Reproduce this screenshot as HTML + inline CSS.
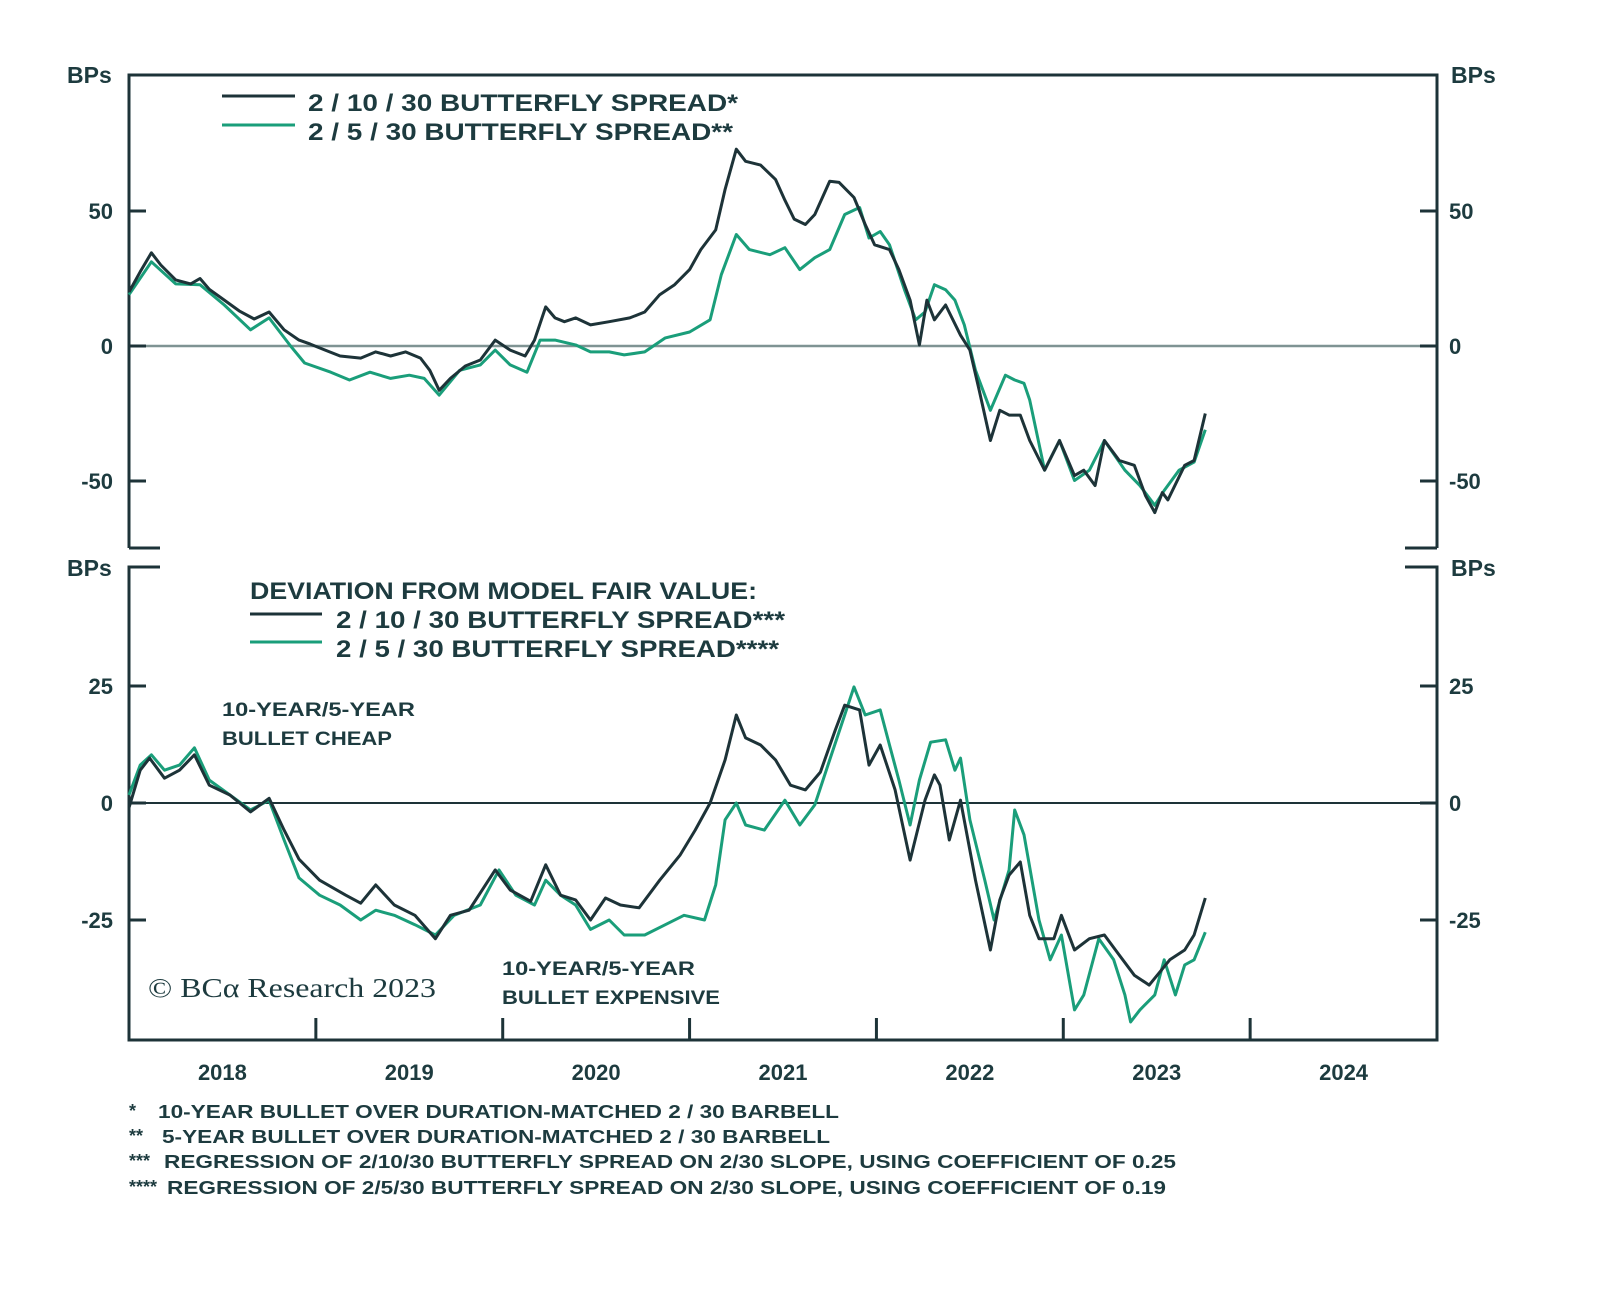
<!DOCTYPE html>
<html><head><meta charset="utf-8"><style>
html,body{margin:0;padding:0;background:#fff;}
svg{display:block;font-family:"Liberation Sans",sans-serif;}
</style></head><body>
<svg id="chart" width="1600" height="1289" viewBox="0 0 1600 1289">
<g id="frame"></g>
<g id="marks"></g>
<g id="texts" fill="#1d3b3f" font-weight="bold">
  <text x="67" y="83" font-size="23">BPs</text>
  <text x="1451" y="83" font-size="23">BPs</text>
  <text x="67" y="576" font-size="23">BPs</text>
  <text x="1451" y="576" font-size="23">BPs</text>
  <g>
    <line x1="222" y1="96" x2="295" y2="96" stroke="#1d3338" stroke-width="3"/>
    <line x1="222" y1="125" x2="295" y2="125" stroke="#1a9e7a" stroke-width="3"/>
    <text x="308" y="111" font-size="24" textLength="430" lengthAdjust="spacingAndGlyphs">2 / 10 / 30 BUTTERFLY SPREAD*</text>
    <text x="308" y="140" font-size="24" textLength="425" lengthAdjust="spacingAndGlyphs">2 / 5 / 30 BUTTERFLY SPREAD**</text>
  </g>
  <g>
    <text x="250" y="599" font-size="24" textLength="507" lengthAdjust="spacingAndGlyphs">DEVIATION FROM MODEL FAIR VALUE:</text>
    <line x1="250" y1="614" x2="322" y2="614" stroke="#1d3338" stroke-width="3"/>
    <line x1="250" y1="642" x2="322" y2="642" stroke="#1a9e7a" stroke-width="3"/>
    <text x="336" y="628" font-size="24" textLength="449" lengthAdjust="spacingAndGlyphs">2 / 10 / 30 BUTTERFLY SPREAD***</text>
    <text x="336" y="657" font-size="24" textLength="443" lengthAdjust="spacingAndGlyphs">2 / 5 / 30 BUTTERFLY SPREAD****</text>
  </g>
  <text x="222" y="716" font-size="19" textLength="193" lengthAdjust="spacingAndGlyphs">10-YEAR/5-YEAR</text>
  <text x="222" y="745" font-size="19" textLength="170" lengthAdjust="spacingAndGlyphs">BULLET CHEAP</text>
  <text x="502" y="975" font-size="19" textLength="193" lengthAdjust="spacingAndGlyphs">10-YEAR/5-YEAR</text>
  <text x="502" y="1004" font-size="19" textLength="218" lengthAdjust="spacingAndGlyphs">BULLET EXPENSIVE</text>
  <text x="148" y="997" font-size="27" font-weight="normal" font-family="Liberation Serif, serif" textLength="288" lengthAdjust="spacingAndGlyphs">© BCα Research 2023</text>
  <g font-size="18">
    <text x="129" y="1117">*</text>
    <text x="158" y="1118" textLength="681" lengthAdjust="spacingAndGlyphs">10-YEAR BULLET OVER DURATION-MATCHED 2 / 30 BARBELL</text>
    <text x="129" y="1142">**</text>
    <text x="162" y="1143" textLength="668" lengthAdjust="spacingAndGlyphs">5-YEAR BULLET OVER DURATION-MATCHED 2 / 30 BARBELL</text>
    <text x="129" y="1167">***</text>
    <text x="164" y="1168" textLength="1012" lengthAdjust="spacingAndGlyphs">REGRESSION OF 2/10/30 BUTTERFLY SPREAD ON 2/30 SLOPE, USING COEFFICIENT OF 0.25</text>
    <text x="129" y="1193">****</text>
    <text x="167" y="1194" textLength="999" lengthAdjust="spacingAndGlyphs">REGRESSION OF 2/5/30 BUTTERFLY SPREAD ON 2/30 SLOPE, USING COEFFICIENT OF 0.19</text>
  </g>
</g>
</svg>
<script>
// ---------- data ----------
const yearLabels = ["2018","2019","2020","2021","2022","2023","2024"];
const topTicks = [50, 0, -50];
const topTickLabels = ["50","0","-50"];
const bottomTicks = [25, 0, -25];
const bottomTickLabels = ["25","0","-25"];

const topBlackDates = [2018.00,2018.06,2018.12,2018.17,2018.25,2018.33,2018.38,2018.43,2018.51,2018.59,2018.67,2018.75,2018.83,2018.91,2018.97,2019.05,2019.13,2019.24,2019.32,2019.40,2019.48,2019.56,2019.61,2019.66,2019.72,2019.80,2019.88,2019.96,2020.04,2020.12,2020.17,2020.23,2020.28,2020.33,2020.39,2020.47,2020.57,2020.68,2020.76,2020.84,2020.92,2021.00,2021.06,2021.14,2021.19,2021.25,2021.30,2021.38,2021.46,2021.51,2021.56,2021.62,2021.67,2021.75,2021.80,2021.88,2021.94,2021.99,2022.07,2022.12,2022.18,2022.23,2022.27,2022.31,2022.37,2022.45,2022.50,2022.55,2022.61,2022.66,2022.71,2022.77,2022.82,2022.90,2022.98,2023.06,2023.11,2023.17,2023.22,2023.30,2023.38,2023.44,2023.49,2023.53,2023.56,2023.65,2023.70,2023.76];
const topBlackValues = [20,27.5,34.5,30,24.5,23,25,21,17,13,10,12.6,6,2.2,0.7,-1.5,-3.7,-4.5,-2.2,-3.7,-2.2,-4.5,-9,-16.4,-12,-7.4,-5.2,2.2,-1.5,-3.7,2.2,14.5,10.4,9,10.4,7.8,9,10.4,12.6,19,22.7,28.3,35.7,43,58,72.9,68.4,67,61.7,54,47,45,48.7,61,60.6,55,45,37.5,35.7,28.3,17,0.4,17,9.7,15.2,4,-1.5,-16.4,-35,-23.8,-25.6,-25.6,-35,-46,-35,-48,-46,-51.7,-35,-42.4,-44.2,-55.4,-61.7,-54.3,-57,-44.2,-42.4,-25];

const topGreenDates = [2018.00,2018.12,2018.25,2018.38,2018.51,2018.65,2018.75,2018.86,2018.94,2019.08,2019.18,2019.29,2019.40,2019.50,2019.58,2019.66,2019.77,2019.88,2019.96,2020.04,2020.13,2020.20,2020.28,2020.39,2020.47,2020.57,2020.65,2020.76,2020.87,2021.00,2021.11,2021.17,2021.25,2021.32,2021.43,2021.51,2021.59,2021.67,2021.75,2021.83,2021.91,2021.96,2022.02,2022.07,2022.15,2022.21,2022.26,2022.31,2022.37,2022.42,2022.47,2022.53,2022.61,2022.69,2022.74,2022.79,2022.82,2022.90,2022.98,2023.06,2023.14,2023.22,2023.33,2023.41,2023.49,2023.54,2023.62,2023.70,2023.76];
const topGreenValues = [19,31.2,23,22.7,15.2,6,10.4,0.4,-6.3,-9.7,-12.6,-9.7,-12,-10.8,-12,-18.2,-9,-7,-1.5,-7,-9.7,2.2,2.2,0.4,-2.2,-2.2,-3.3,-2.2,3,5.2,9.7,26.4,41.3,35.7,33.8,36.4,28.3,32.7,35.7,48.7,51.3,40,42.4,37.5,20.8,9.7,12.6,22.7,20.8,17,7.8,-9,-23.8,-10.8,-12.6,-13.8,-20,-46,-35,-49.8,-46,-35,-46,-51.7,-59,-53.5,-46,-43,-31];

const botBlackDates = [2018.00,2018.06,2018.11,2018.19,2018.27,2018.35,2018.43,2018.54,2018.65,2018.75,2018.83,2018.91,2019.02,2019.16,2019.24,2019.32,2019.42,2019.53,2019.64,2019.72,2019.82,2019.96,2020.04,2020.15,2020.23,2020.31,2020.39,2020.47,2020.55,2020.63,2020.73,2020.84,2020.95,2021.03,2021.11,2021.19,2021.25,2021.30,2021.38,2021.46,2021.54,2021.62,2021.70,2021.78,2021.83,2021.91,2021.96,2022.02,2022.10,2022.18,2022.26,2022.31,2022.34,2022.39,2022.45,2022.53,2022.61,2022.66,2022.71,2022.77,2022.82,2022.87,2022.95,2022.99,2023.06,2023.14,2023.22,2023.30,2023.38,2023.46,2023.57,2023.65,2023.70,2023.76];
const botBlackValues = [-1,7,9.6,5.3,7,10.3,3.8,1.7,-1.9,1,-5.8,-12,-16.5,-19.7,-21.4,-17.5,-21.8,-24,-29,-24,-22.9,-14.3,-18.6,-21,-13.2,-19.7,-20.7,-25,-20.3,-21.8,-22.4,-16.5,-11.1,-5.8,0,9.2,18.8,13.9,12.4,9.2,3.8,2.8,6.6,15.6,20.9,19.9,8.1,12.4,2.8,-12.2,0.6,6,3.8,-7.9,0.6,-16.5,-31.4,-20.7,-15.4,-12.6,-24,-29,-29,-24,-31.4,-29,-28.2,-32.5,-36.8,-38.9,-33.5,-31.4,-28.2,-20.3];

const botGreenDates = [2018.00,2018.06,2018.12,2018.19,2018.27,2018.35,2018.43,2018.54,2018.65,2018.75,2018.83,2018.91,2019.02,2019.13,2019.24,2019.32,2019.42,2019.53,2019.64,2019.74,2019.88,2019.98,2020.07,2020.17,2020.23,2020.31,2020.39,2020.47,2020.57,2020.65,2020.76,2020.87,2020.97,2021.08,2021.14,2021.19,2021.25,2021.30,2021.40,2021.51,2021.59,2021.67,2021.75,2021.83,2021.88,2021.94,2022.02,2022.07,2022.12,2022.18,2022.23,2022.29,2022.37,2022.42,2022.45,2022.50,2022.58,2022.63,2022.71,2022.74,2022.79,2022.87,2022.93,2022.99,2023.06,2023.11,2023.19,2023.27,2023.33,2023.36,2023.41,2023.49,2023.54,2023.60,2023.65,2023.70,2023.76];
const botGreenValues = [1.7,8.1,10.3,7,8.1,11.8,4.9,1.7,-1.5,0.6,-7.9,-16,-19.7,-21.8,-25,-22.9,-24,-26,-28.2,-24,-21.8,-14.3,-19.7,-21.8,-16.5,-19.7,-21.8,-27,-25,-28.2,-28.2,-26,-24,-25,-17.5,-3.6,0,-4.7,-5.8,0.6,-4.7,-0.4,9.2,18.8,24.8,18.8,19.9,12.4,4.9,-4.7,4.9,13,13.5,7,9.6,-3.6,-16.5,-25,-14.3,-1.5,-6.8,-25,-33.5,-28.2,-44.2,-41,-29,-33.5,-41,-46.8,-44.2,-41,-33.5,-41,-34.6,-33.5,-27.6];

// ---------- scales ----------
const X0 = 129, X1 = 1437, T0 = 2018, T1 = 2025;
function xScale(t){ return X0 + (t - T0) / (T1 - T0) * (X1 - X0); }
function yTop(v){ return 346 - v * (135 / 50); }
function yBot(v){ return 803 - v * (117 / 25); }

const NS = "http://www.w3.org/2000/svg";
const frame = document.getElementById('frame');
const marks = document.getElementById('marks');
const texts = document.getElementById('texts');
function mk(tag, attrs, parent){
  const e = document.createElementNS(NS, tag);
  for (const k in attrs) e.setAttribute(k, attrs[k]);
  parent.appendChild(e);
  return e;
}
const AX = "#1d3338";

// top panel frame
let e;
e = mk('path', {d:`M129 548 V75 H1437 V548`, fill:'none', stroke:AX, 'stroke-width':3}, frame);


e = mk('path', {d:`M129 548 H160 M1405 548 H1437`, fill:'none', stroke:AX, 'stroke-width':3}, frame);


// bottom panel frame
e = mk('path', {d:`M160 567 H129 V1040 H1437 V567 H1405`, fill:'none', stroke:AX, 'stroke-width':3}, frame);



// zero lines
e = mk('line', {x1:129, x2:1437, y1:yTop(0), y2:yTop(0), stroke:'#7f9393', 'stroke-width':2.5}, frame);


e = mk('line', {x1:129, x2:1437, y1:yBot(0), y2:yBot(0), stroke:AX, 'stroke-width':2}, frame);



// y ticks
topTicks.forEach((v,i)=>{
  const y = yTop(v);
  const t1 = mk('path', {d:`M129 ${y} H146 M1420 ${y} H1437`, stroke:AX, 'stroke-width':3}, frame);
  
  
  const l = mk('text', {x:113, y:y+8, 'text-anchor':'end', 'font-size':22}, texts);
  l.textContent = topTickLabels[i];
  
  
  const r = mk('text', {x:1449, y:y+8, 'font-size':22}, texts);
  r.textContent = topTickLabels[i];
  
  
});
bottomTicks.forEach((v,i)=>{
  const y = yBot(v);
  const t1 = mk('path', {d:`M129 ${y} H146 M1420 ${y} H1437`, stroke:AX, 'stroke-width':3}, frame);
  
  
  const l = mk('text', {x:113, y:y+8, 'text-anchor':'end', 'font-size':22}, texts);
  l.textContent = bottomTickLabels[i];
  
  
  const r = mk('text', {x:1449, y:y+8, 'font-size':22}, texts);
  r.textContent = bottomTickLabels[i];
  
  
});

// x ticks and labels
yearLabels.forEach((lab,i)=>{
  const t = T0 + i;
  if (i > 0) {
    const tk = mk('line', {x1:xScale(t), x2:xScale(t), y1:1018, y2:1040, stroke:AX, 'stroke-width':3}, frame);
    
    
  }
  const l = mk('text', {x:xScale(t + 0.5), y:1080, 'text-anchor':'middle', 'font-size':22}, texts);
  l.textContent = lab;
  
  
});

function series(dates, vals, yf, color, name){
  const d = dates.map((t,i)=>(i?'L':'M') + xScale(t).toFixed(1) + ' ' + yf(vals[i]).toFixed(1)).join(' ');
  const p = mk('path', {d, fill:'none', stroke:color, 'stroke-width':3, 'stroke-linejoin':'round'}, marks);
  
  
}
series(topGreenDates, topGreenValues, yTop, '#1a9e7a', 'top-series-2-5-30');
series(topBlackDates, topBlackValues, yTop, '#1d3338', 'top-series-2-10-30');
series(botGreenDates, botGreenValues, yBot, '#1a9e7a', 'bottom-series-deviation-2-5-30');
series(botBlackDates, botBlackValues, yBot, '#1d3338', 'bottom-series-deviation-2-10-30');
</script>
</body></html>
